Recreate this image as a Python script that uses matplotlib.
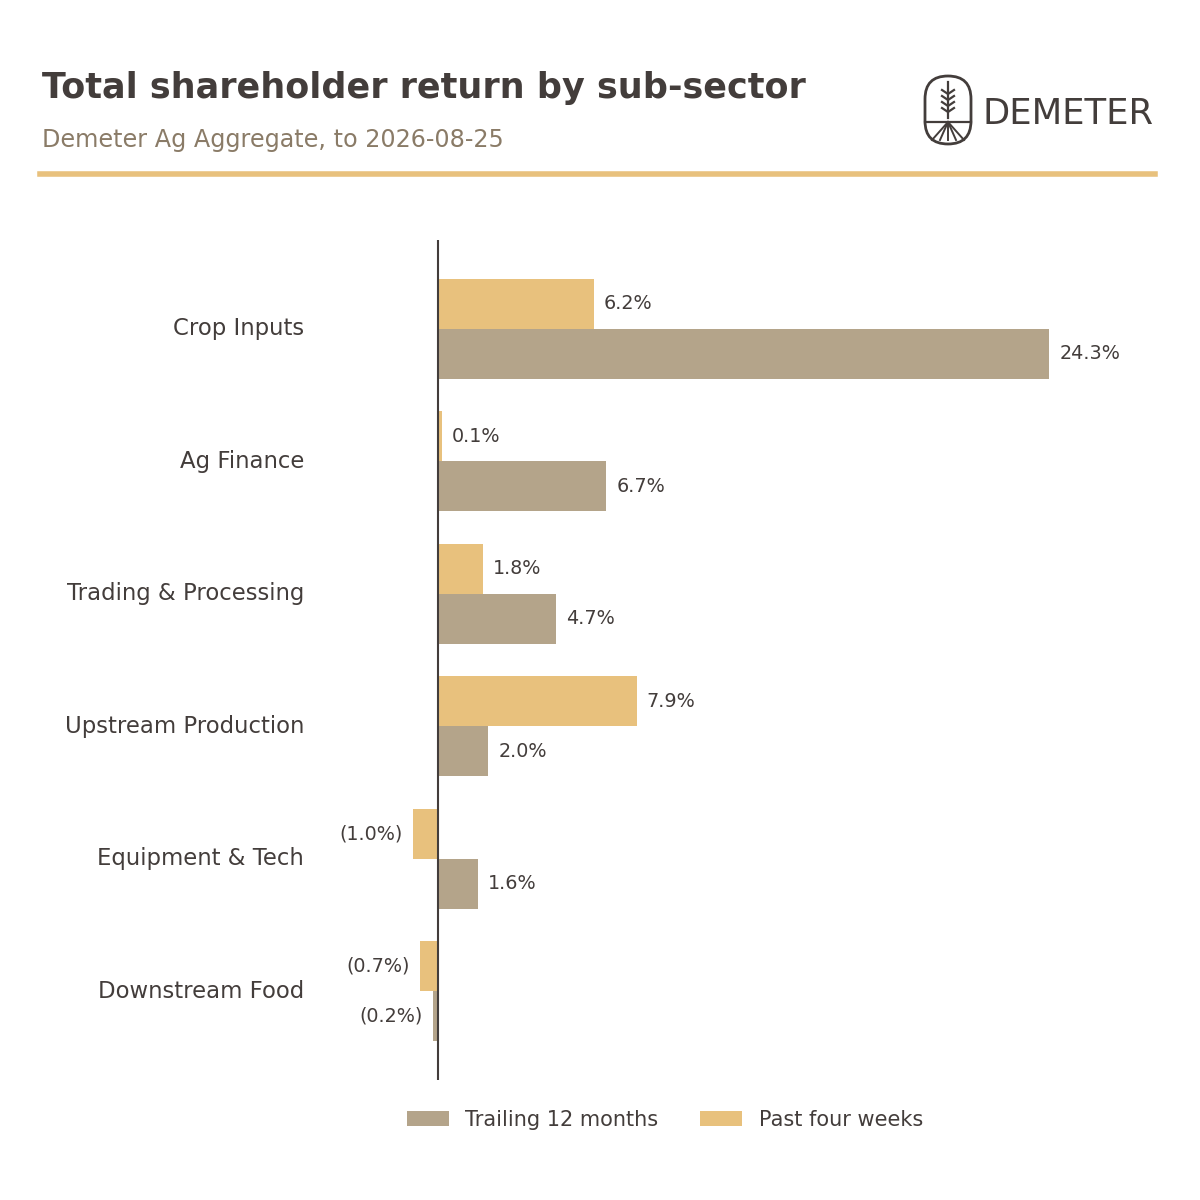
import matplotlib
matplotlib.use("Agg")
import matplotlib.pyplot as plt
from matplotlib.patches import FancyBboxPatch
import numpy as np

plt.rcParams["font.family"] = ["DejaVu Sans"]

categories = ["Crop Inputs", "Ag Finance", "Trading & Processing",
              "Upstream Production", "Equipment & Tech", "Downstream Food"]
trailing_12m = [24.3, 6.7, 4.7, 2.0, 1.6, -0.2]
past_4w = [6.2, 0.15, 1.8, 7.9, -1.0, -0.7]
past_4w_labels = [6.2, 0.1, 1.8, 7.9, -1.0, -0.7]

GOLD = "#E8C17D"
TAUPE = "#B4A48A"
TEXT = "#433D3B"
SUB = "#8A7B67"


def fmt(v):
    return f"({abs(v):.1f}%)" if v < 0 else f"{v:.1f}%"


fig = plt.figure(figsize=(12, 12), dpi=100)
fig.patch.set_facecolor("white")

# header
fig.text(42 / 1200, 1 - 88 / 1200, "Total shareholder return by sub-sector",
         fontsize=25.2, fontweight="bold", color=TEXT, va="center")
fig.text(42 / 1200, 1 - 140 / 1200, "Demeter Ag Aggregate, to 2026-08-25",
         fontsize=17.2, color=SUB, va="center")
fig.add_artist(plt.Line2D([40 / 1200, 1155 / 1200], [1 - 174 / 1200] * 2,
                          color=GOLD, lw=4, transform=fig.transFigure))

# logo
lax = fig.add_axes([920 / 1200, 1 - 148 / 1200, 56 / 1200, 76 / 1200])
lax.set_xlim(0, 56); lax.set_ylim(0, 76); lax.axis("off")
lax.add_patch(FancyBboxPatch((5, 4), 46, 68, boxstyle="round,pad=0,rounding_size=23",
                             fill=False, ec=TEXT, lw=2))
lax.plot([28, 28], [30, 66], color=TEXT, lw=1.6)
for yy in [36, 42, 48, 54]:
    lax.plot([22, 28, 34], [yy + 4, yy, yy + 4], color=TEXT, lw=1.6)
lax.plot([5, 51], [26, 26], color=TEXT, lw=1.6)
for xe in [12, 20, 28, 36, 44]:
    lax.plot([28, xe], [26, 8], color=TEXT, lw=1.4)
fig.text(983 / 1200, 1 - 114 / 1200, "DEMETER", fontsize=25.5, color=TEXT, va="center")

# chart
ax = fig.add_axes([320 / 1200, 1 - 1080 / 1200, 830 / 1200, 840 / 1200])
y = np.arange(len(categories))
h = 0.377
ax.barh(y - h / 2, past_4w, height=h, color=GOLD, label="Past four weeks")
ax.barh(y + h / 2, trailing_12m, height=h, color=TAUPE, label="Trailing 12 months")
ax.set_xlim(-4.68, 28.3)
ax.set_ylim(5.67, -0.67)
ax.axvline(0, color=TEXT, lw=1.5)
for s in ax.spines.values():
    s.set_visible(False)
ax.set_xticks([])
ax.set_yticks([])
for i, c in enumerate(categories):
    ax.text(-0.0193, i, c, transform=ax.get_yaxis_transform(), ha="right",
            va="center", fontsize=16.4, color=TEXT)
    for v, lab, off in [(past_4w[i], past_4w_labels[i], -h / 2), (trailing_12m[i], trailing_12m[i], h / 2)]:
        if v >= 0:
            ax.text(v + 0.4, i + off, fmt(lab), ha="left", va="center", fontsize=13.8, color=TEXT)
        else:
            ax.text(v - 0.4, i + off, fmt(lab), ha="right", va="center", fontsize=13.8, color=TEXT)

handles, labels = ax.get_legend_handles_labels()
fig.legend(handles[::-1], labels[::-1], loc="center", bbox_to_anchor=(665 / 1200, 1 - 1120 / 1200),
           ncol=2, frameon=False, fontsize=15, labelcolor=TEXT, handlelength=2.0,
           handleheight=0.7, handletextpad=0.8, columnspacing=2.0)

fig.savefig("out.png", dpi=100, facecolor="white")
